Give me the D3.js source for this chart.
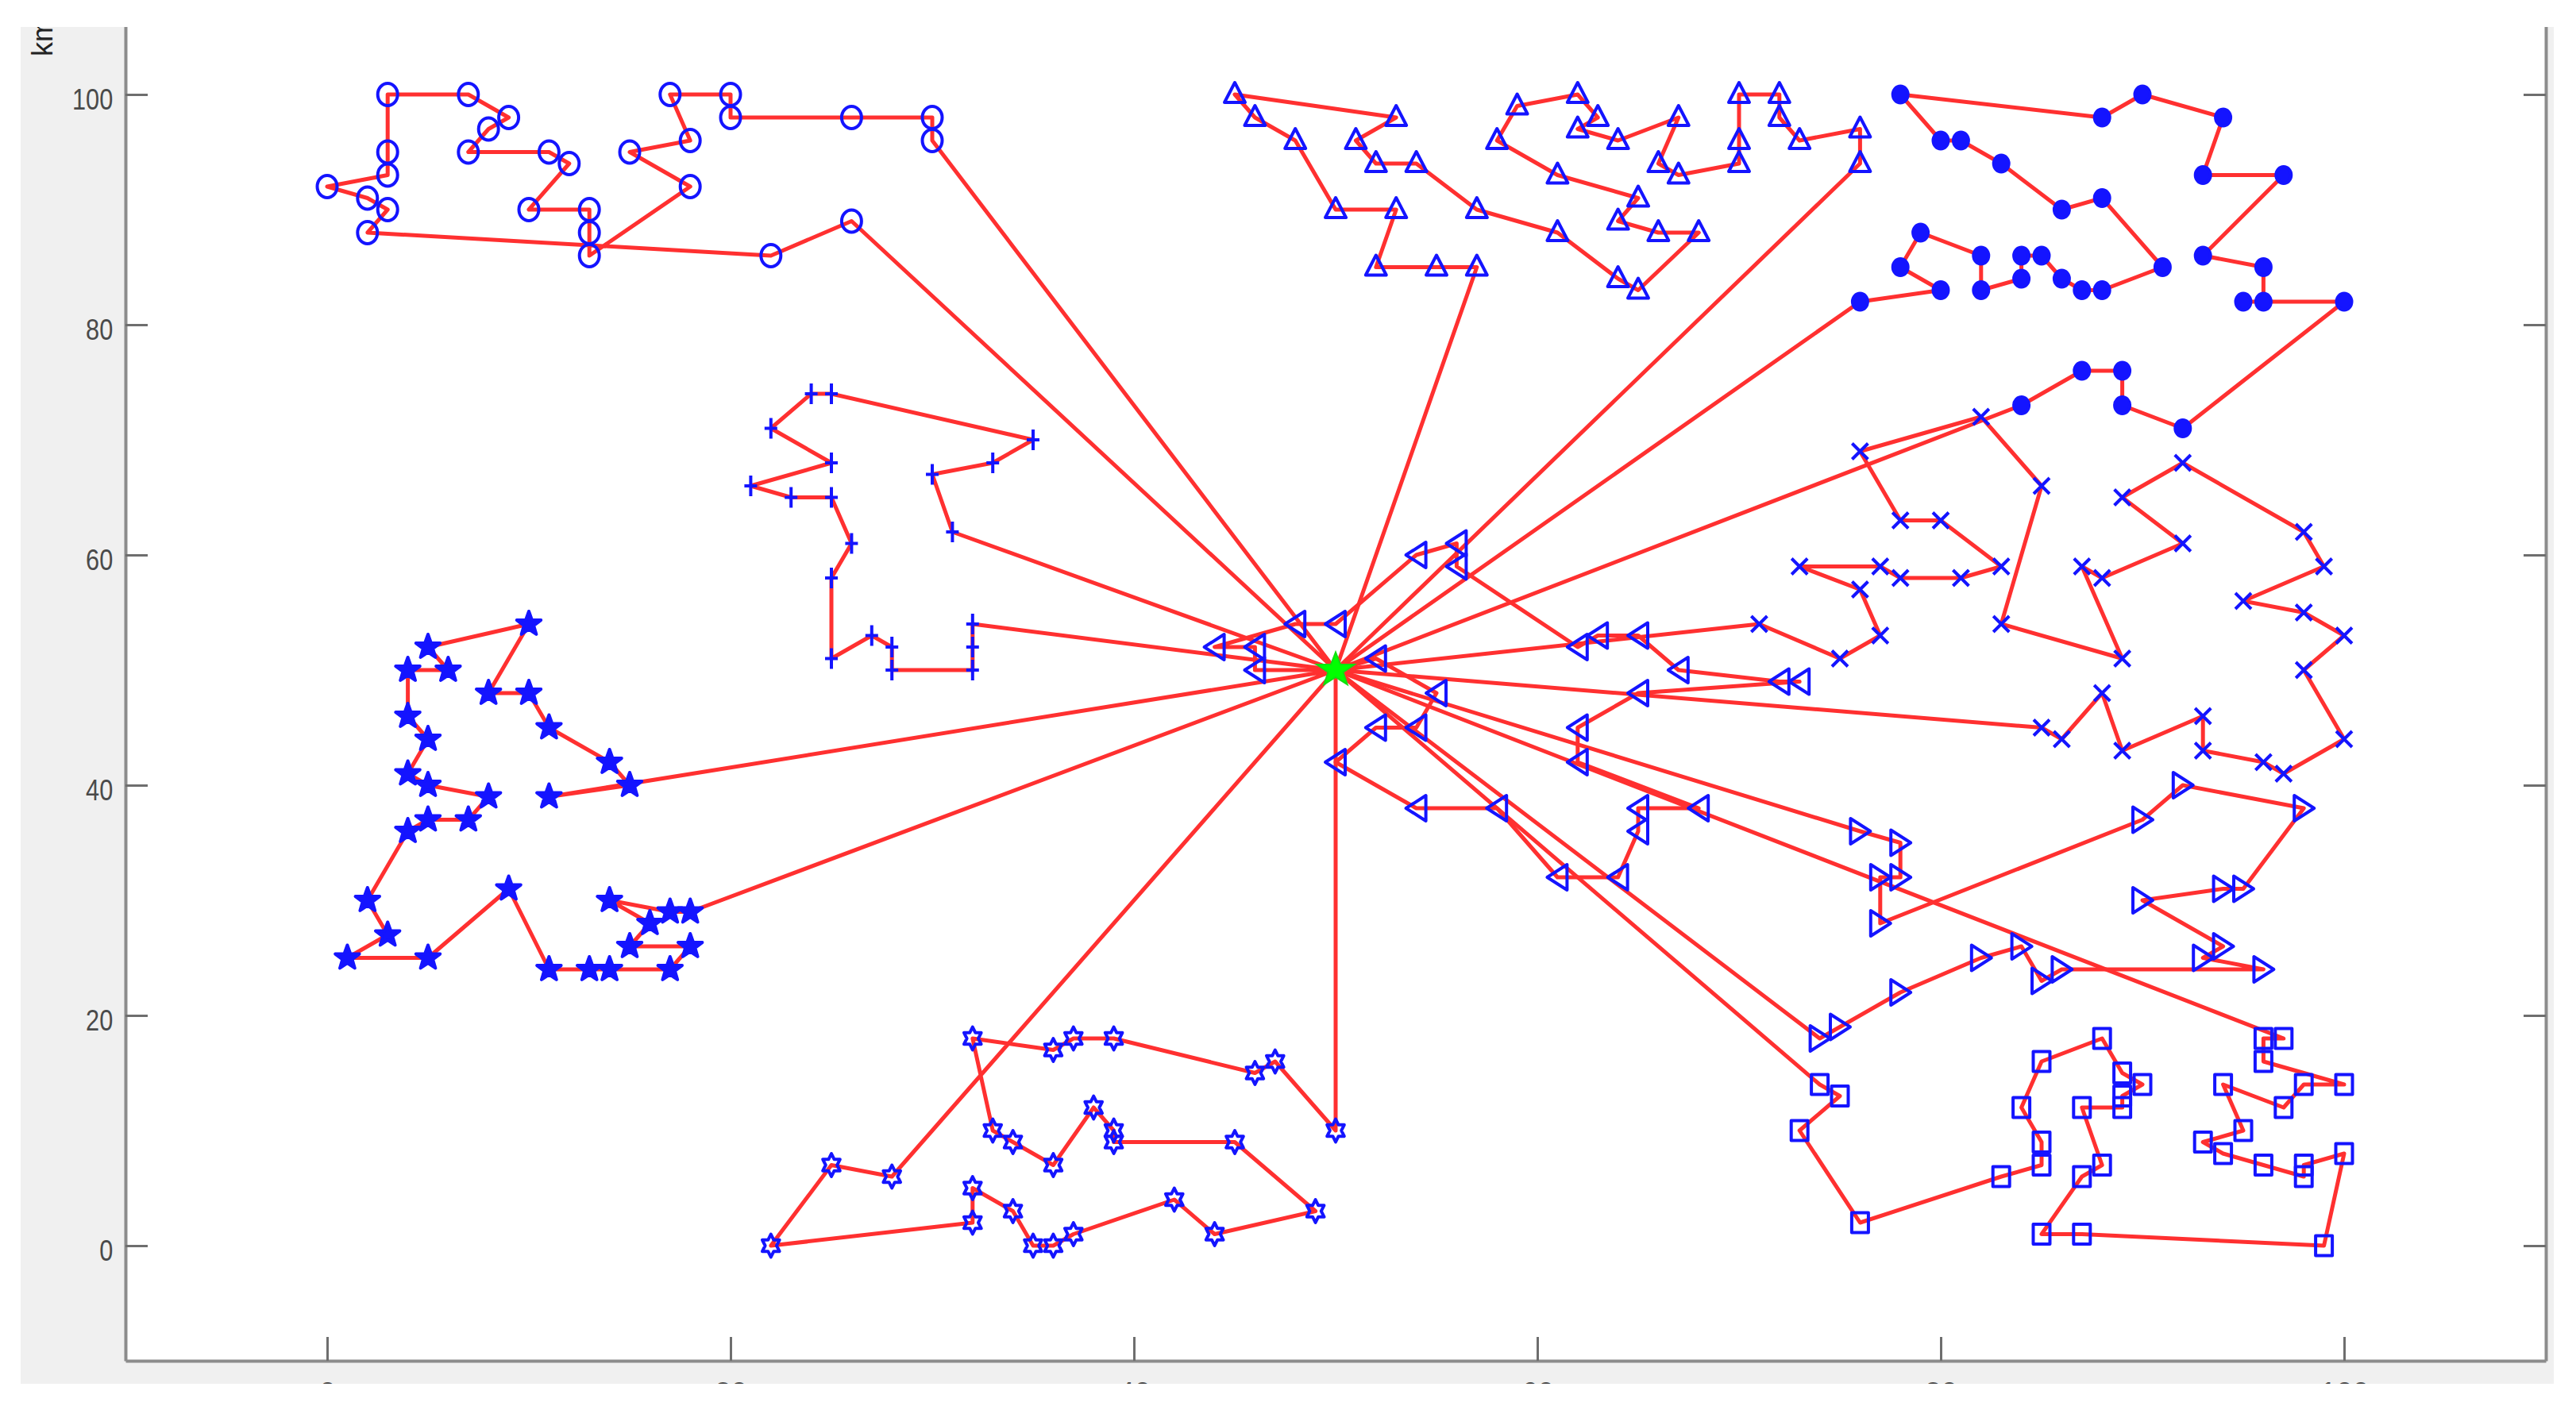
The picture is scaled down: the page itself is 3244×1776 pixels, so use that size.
<!DOCTYPE html>
<html>
<head>
<meta charset="utf-8">
<script src="https://cdn.jsdelivr.net/npm/d3@7"></script>
<style>
  html, body { margin: 0; padding: 0; background: #fff; }
  svg { display: block; }
</style>
</head>
<body>
<svg id="chart"></svg>
<script>
width = 3244
height = 1776

// depot and the ten vehicle routes (customers in visiting order, x/y in km)
depot = [50, 50]

routeCircle = [[26,89],[22,86],[2,88],[3,90],[2,91],[0,92],[3,93],[3,95],[3,100],[7,100],[9,98],[8,97],[7,95],[11,95],[12,94],[10,90],[13,90],[13,88],[13,86],[18,92],[15,95],[18,96],[17,100],[20,100],[20,98],[26,98],[30,98],[30,96]]
routePlus = [[31,62],[30,67],[33,68],[35,70],[25,74],[24,74],[22,71],[25,68],[21,66],[23,65],[25,65],[26,61],[25,58],[25,51],[27,53],[28,52],[28,50],[32,50],[32,52],[32,54]]
routePentagram = [[11,39],[15,40],[14,42],[11,45],[10,48],[8,48],[10,54],[5,52],[6,50],[4,50],[4,46],[5,44],[4,41],[5,40],[8,39],[7,37],[5,37],[4,36],[2,30],[3,27],[1,25],[5,25],[9,31],[11,24],[13,24],[14,24],[17,24],[18,26],[15,26],[16,28],[14,30],[17,29],[18,29]]
routeHexagram = [[50,10],[47,16],[46,15],[39,18],[37,18],[36,17],[32,18],[33,10],[34,9],[36,7],[38,12],[39,10],[39,9],[45,9],[49,3],[44,1],[42,4],[37,1],[36,0],[35,0],[34,3],[32,5],[32,2],[22,0],[25,7],[28,6]]
routeTriUp = [[57,85],[55,85],[52,85],[53,90],[50,90],[48,96],[46,98],[45,100],[53,98],[51,96],[52,94],[54,94],[57,90],[61,88],[64,84],[65,83],[68,88],[66,88],[64,89],[65,91],[61,93],[58,96],[59,99],[62,100],[63,98],[62,97],[64,96],[67,98],[66,94],[67,93],[70,94],[70,96],[70,100],[72,100],[72,98],[73,96],[76,97],[76,94]]
routeDot = [[76,82],[80,83],[78,85],[79,88],[82,86],[82,83],[84,84],[84,86],[85,86],[86,84],[87,83],[88,83],[91,85],[88,91],[86,90],[83,94],[81,96],[80,96],[78,100],[88,98],[90,100],[94,98],[93,93],[97,93],[93,86],[96,85],[96,82],[95,82],[100,82],[92,71],[89,73],[89,76],[87,76],[84,73]]
routeCross = [[71,54],[75,51],[77,53],[76,57],[73,59],[77,59],[78,58],[81,58],[83,59],[80,63],[78,63],[76,69],[82,72],[85,66],[83,54],[89,51],[87,59],[88,58],[92,61],[89,65],[92,68],[98,62],[99,59],[95,56],[98,55],[100,53],[98,50],[100,44],[97,41],[96,42],[93,43],[93,46],[89,43],[88,48],[86,44],[85,45]]
routeTriLeft = [[52,51],[55,48],[54,45],[52,45],[50,42],[54,38],[58,38],[61,32],[64,32],[65,36],[65,38],[68,38],[62,42],[62,45],[65,48],[73,49],[72,49],[67,50],[65,53],[63,53],[62,52],[56,59],[56,61],[54,60],[50,54],[48,54],[44,52],[46,52],[46,50]]
routeTriRight = [[76,36],[78,35],[78,32],[77,32],[77,28],[90,37],[92,40],[98,38],[95,31],[94,31],[90,30],[94,26],[93,25],[96,24],[86,24],[85,23],[84,26],[82,25],[78,22],[75,19],[74,18]]
routeSquare = [[74,14],[75,13],[73,10],[76,2],[83,6],[85,7],[85,9],[84,12],[85,16],[88,18],[89,15],[90,14],[89,13],[89,12],[87,12],[88,7],[87,6],[85,1],[87,1],[99,0],[100,8],[98,7],[98,6],[96,7],[94,8],[93,9],[95,10],[94,14],[97,12],[98,14],[100,14],[96,16],[96,18],[97,18]]

xTicks = [0, 20, 40, 60, 80, 100]
yTicks = [0, 20, 40, 60, 80, 100]
yLabel = "km"

routes = [
  {points: routeCircle, marker: "o"},
  {points: routePlus, marker: "+"},
  {points: routePentagram, marker: "p"},
  {points: routeHexagram, marker: "h"},
  {points: routeTriUp, marker: "^"},
  {points: routeDot, marker: "."},
  {points: routeCross, marker: "x"},
  {points: routeTriLeft, marker: "<"},
  {points: routeTriRight, marker: ">"},
  {points: routeSquare, marker: "s"}
]

blue = "#1414ff"
red = "#ff3030"

x = d3.scaleLinear().domain([-10, 110]).range([158, 3206])
y = d3.scaleLinear().domain([-10, 110]).range([1714, -26])

function ellipse(rx, ry) {
  return `M${-rx},0a${rx},${ry} 0 1,0 ${2 * rx},0a${rx},${ry} 0 1,0 ${-2 * rx},0Z`
}

function star(n, ro, ri, sy) {
  const pts = d3.range(2 * n).map(i => {
    const a = -Math.PI / 2 + i * Math.PI / n
    const r = i % 2 ? ri : ro
    return [r * Math.cos(a), r * Math.sin(a) * sy]
  })
  return "M" + pts.join("L") + "Z"
}

markers = {
  "o": {d: ellipse(12.5, 14), fill: "none"},
  "+": {d: "M0,-13V13M-8,0H8", fill: "none"},
  "p": {d: star(5, 16, 6.5, 1), fill: blue},
  "h": {d: star(6, 12.5, 7.2, 1.15), fill: "none"},
  "^": {d: "M0,-15L13,10L-13,10Z", fill: "none"},
  ".": {d: ellipse(9.5, 10.5), fill: blue},
  "x": {d: "M-10,-10L10,10M-10,10L10,-10", fill: "none"},
  "<": {d: "M-13,0L12,-16L12,16Z", fill: "none"},
  ">": {d: "M13,0L-12,-16L-12,16Z", fill: "none"},
  "s": {d: "M-10.5,-12.5H10.5V12.5H-10.5Z", fill: "none"}
}

chart = function() {
  const svg = d3.select("#chart")
      .attr("width", width)
      .attr("height", height)
      .attr("font-family", "'Liberation Sans', Arial, sans-serif")

  // figure background and white axes area
  svg.append("rect")
      .attr("x", 26).attr("y", 0)
      .attr("width", 3216 - 26).attr("height", 1743)
      .attr("fill", "#f0f0f0")
  svg.append("rect")
      .attr("x", x(-10)).attr("y", 0)
      .attr("width", x(110) - x(-10)).attr("height", y(-10))
      .attr("fill", "#fff")

  svg.append("clipPath")
      .attr("id", "plot-clip")
    .append("rect")
      .attr("x", x(-10)).attr("y", 34)
      .attr("width", x(110) - x(-10)).attr("height", y(-10) - 34)

  const plot = svg.append("g").attr("clip-path", "url(#plot-clip)")

  const line = d3.line()
      .x(d => x(d[0]))
      .y(d => y(d[1]))

  routes.forEach(r => {
    plot.append("path")
        .attr("d", line([depot, ...r.points, depot]))
        .attr("fill", "none")
        .attr("stroke", red)
        .attr("stroke-width", 5)
        .attr("stroke-linejoin", "round")
  })

  routes.forEach(r => {
    const m = markers[r.marker]
    plot.append("g")
      .selectAll("path")
      .data(r.points)
      .join("path")
        .attr("transform", d => `translate(${x(d[0])},${y(d[1])})`)
        .attr("d", m.d)
        .attr("fill", m.fill)
        .attr("stroke", blue)
        .attr("stroke-width", 4)
        .attr("stroke-linejoin", "round")
  })

  // depot
  plot.append("path")
      .attr("transform", `translate(${x(depot[0])},${y(depot[1])})`)
      .attr("d", star(5, 25, 10, 0.9))
      .attr("fill", "#00ff00")
      .attr("stroke", "#10e010")
      .attr("stroke-width", 2)

  // axes
  const styleAxis = g => {
    g.select(".domain").attr("stroke", "#8c8c8c").attr("stroke-width", 4)
    g.selectAll(".tick line").attr("stroke", "#6e6e6e").attr("stroke-width", 3)
    g.selectAll(".tick text")
        .attr("fill", "#4a4a4a")
        .attr("font-size", 37)
  }

  svg.append("g")
      .attr("transform", `translate(${x(-10)},0)`)
      .call(d3.axisLeft(y).tickValues(yTicks).tickSizeInner(-28).tickSizeOuter(0).tickPadding(19))
      .call(styleAxis)
      .call(g => g.selectAll(".tick text")
          .attr("dy", "0.5em")
          .attr("transform", "scale(0.83,1)"))

  svg.append("g")
      .attr("transform", `translate(${x(110)},0)`)
      .call(d3.axisRight(y).tickValues(yTicks).tickSizeInner(-28).tickSizeOuter(0).tickFormat(""))
      .call(styleAxis)

  svg.append("g")
      .attr("transform", `translate(0,${y(-10)})`)
      .call(d3.axisBottom(x).tickValues(xTicks).tickSizeInner(-30).tickSizeOuter(0).tickPadding(27))
      .call(styleAxis)

  svg.append("text")
      .attr("transform", "translate(66,71) rotate(-90)")
      .attr("font-size", 36)
      .attr("fill", "#222")
      .text(yLabel)

  // screenshot crop: white above the axes and below the figure
  svg.append("rect")
      .attr("x", 0).attr("y", 0)
      .attr("width", width).attr("height", 34)
      .attr("fill", "#fff")
  svg.append("rect")
      .attr("x", 0).attr("y", 1743)
      .attr("width", width).attr("height", height - 1743)
      .attr("fill", "#fff")

  return svg.node()
}

chart()
</script>
</body>
</html>
